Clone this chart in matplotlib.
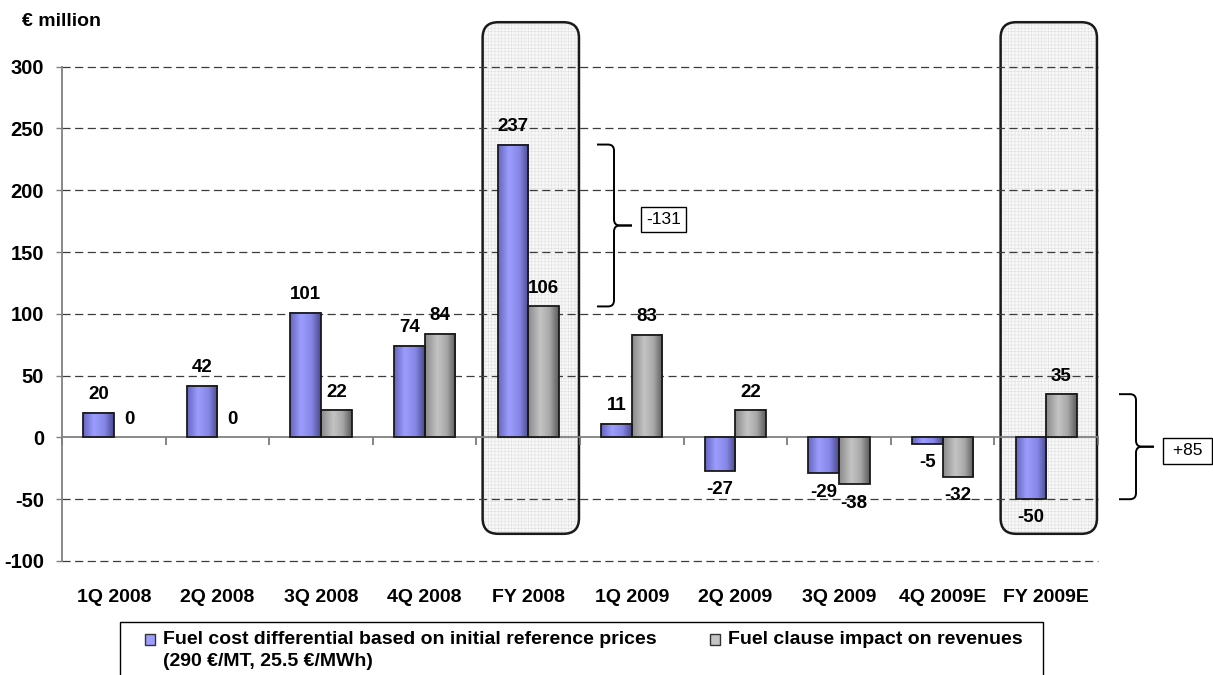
import numpy as np
import matplotlib
matplotlib.use('Agg')
import matplotlib.pyplot as plt
from matplotlib.colors import to_rgb
from matplotlib.patches import Rectangle, FancyBboxPatch, PathPatch
from matplotlib.path import Path

categories = ['1Q 2008', '2Q 2008', '3Q 2008', '4Q 2008', 'FY 2008',
              '1Q 2009', '2Q 2009', '3Q 2009', '4Q 2009E', 'FY 2009E']
fuel_cost_diff = [20, 42, 101, 74, 237, 11, -27, -29, -5, -50]
fuel_clause = [0, 0, 22, 84, 106, 83, 22, -38, -32, 35]
highlighted = ['FY 2008', 'FY 2009E']
legend_labels = ['Fuel cost differential based on initial reference prices',
                 '(290 €/MT, 25.5 €/MWh)',
                 'Fuel clause impact on revenues']
yticks = [-100, -50, 0, 50, 100, 150, 200, 250, 300]

W, H = 1213, 675
FONT = ['Liberation Sans', 'DejaVu Sans']

blue_stops = [(0.0, '#6464c0'), (0.35, '#9d9dff'), (0.7, '#8686e6'), (1.0, '#4a4a8e')]
gray_stops = [(0.0, '#8a8a8a'), (0.4, '#c4c4c4'), (0.7, '#a8a8a8'), (1.0, '#5c5c5c')]

# pixel size of one data unit, used to keep curves round on the skewed scale
PX_X = 1036 / 10.0
PX_Y = 494.3 / 400.0


def gradient_fill(ax, x0, y0, w, h, stops, zorder=2.6, transform=None):
    t = np.linspace(0, 1, 64)
    pos = [s[0] for s in stops]
    rgb = np.array([to_rgb(s[1]) for s in stops])
    img = np.stack([np.interp(t, pos, rgb[:, k]) for k in range(3)], axis=-1)[None, :, :]
    kw = {} if transform is None else dict(transform=transform)
    return ax.imshow(img, extent=(x0, x0 + w, y0, y0 + h), aspect='auto',
                     interpolation='bilinear', zorder=zorder, **kw)


def draw_brace(ax, x0, y_top, y_bot, label, dy):
    w = 17 / PX_X
    tip = 18 / PX_X
    rx = 6 / PX_X
    ry = 6 / PX_Y
    xv = x0 + w
    ym = (y_top + y_bot) / 2.0
    codes = [Path.MOVETO, Path.LINETO, Path.CURVE3, Path.CURVE3, Path.LINETO,
             Path.CURVE3, Path.CURVE3, Path.LINETO]
    for yend, sgn in [(y_top, 1), (y_bot, -1)]:
        verts = [(x0, yend), (xv - rx, yend), (xv, yend), (xv, yend - sgn * ry),
                 (xv, ym + sgn * ry), (xv, ym), (xv + rx, ym), (xv + tip, ym)]
        ax.add_patch(PathPatch(Path(verts, codes), fill=False, ec='black',
                               lw=1.4, clip_on=False, zorder=5))
    ax.annotate(label, (xv + tip, ym), xytext=(10, dy), textcoords='offset points',
                ha='left', va='center', fontsize=12.5, fontweight='normal',
                bbox=dict(boxstyle='square,pad=0.3', fc='white', ec='black', lw=1),
                annotation_clip=False, zorder=6)


def make_graph():
    plt.rcParams['font.family'] = FONT
    plt.rcParams['font.weight'] = 'bold'
    plt.rcParams['hatch.linewidth'] = 0.35

    fig = plt.figure(figsize=(W / 100, H / 100), dpi=100)
    ax = fig.add_axes([62 / W, (H - 561) / H, 1036 / W, 494.3 / H])

    x = np.arange(len(categories))
    bw = 0.295

    # rounded highlight frames behind the full-year columns
    for name in highlighted:
        c = categories.index(name)
        for kw in [dict(fc='#f8f8f8', ec='#dedede', lw=0, hatch='+++++', zorder=0.2),
                   dict(fc='none', ec='#1a1a1a', lw=1.8, zorder=0.3)]:
            box = FancyBboxPatch((c - 0.44, -78), 0.93, 414,
                                 boxstyle='round,pad=0,rounding_size=0.15',
                                 mutation_aspect=PX_X / PX_Y, clip_on=False, **kw)
            ax.add_patch(box)

    bars1 = ax.bar(x - bw / 2, fuel_cost_diff, bw, fc='none', ec='#1a1a1a', lw=1.3, zorder=3)
    bars2 = ax.bar(x + bw / 2, fuel_clause, bw, fc='none', ec='#1a1a1a', lw=1.3, zorder=3)
    for bars, vals, stops in [(bars1, fuel_cost_diff, blue_stops), (bars2, fuel_clause, gray_stops)]:
        for bar, v in zip(bars, vals):
            if v == 0:
                bar.set_visible(False)
            else:
                gradient_fill(ax, bar.get_x(), bar.get_y(), bar.get_width(),
                              bar.get_height(), stops)
            off = 13 if v >= 0 else -13.5
            ax.annotate(str(v), (bar.get_x() + bw / 2, v), xytext=(0, off),
                        textcoords='offset points', ha='center', va='center',
                        fontsize=13.5, zorder=7)

    # braces showing the gap between the two series in each full year
    i = categories.index('FY 2008')
    d = fuel_clause[i] - fuel_cost_diff[i]
    draw_brace(ax, (597 - 62) / PX_X - 0.5, max(fuel_cost_diff[i], fuel_clause[i]),
               min(fuel_cost_diff[i], fuel_clause[i]), f'{d:+d}', 4.5)
    i = categories.index('FY 2009E')
    d = fuel_clause[i] - fuel_cost_diff[i]
    draw_brace(ax, (1119 - 62) / PX_X - 0.5, max(fuel_cost_diff[i], fuel_clause[i]),
               min(fuel_cost_diff[i], fuel_clause[i]), f' {d:+d} ', -3)

    ax.set_xlim(-0.5, len(categories) - 0.5)
    ax.set_ylim(-100, 300)
    ax.set_yticks(yticks)
    ax.set_yticklabels([str(v) for v in yticks])
    ax.set_xticks(np.arange(len(categories) + 1) - 0.5)
    ax.set_xticklabels([])
    ax.tick_params(axis='y', direction='out', length=4, width=1, color='#808080',
                   labelsize=14.5, pad=9)
    ax.tick_params(axis='x', direction='out', length=6, width=1.2, color='#707070')
    ax.yaxis.grid(True, linestyle=(0, (6.5, 3.6)), color='#3c3c3c', lw=0.9)
    for v, gl in zip(yticks, ax.get_ygridlines()):
        gl.set_clip_on(False)
        if v == 0:
            gl.set_visible(False)
    ax.set_axisbelow(True)
    for s in ['top', 'right']:
        ax.spines[s].set_visible(False)
    ax.spines['left'].set_color('#808080')
    ax.spines['left'].set_linewidth(1.3)
    ax.spines['bottom'].set_position(('data', 0))
    ax.spines['bottom'].set_color('#808080')
    ax.spines['bottom'].set_linewidth(1.3)
    ax.patch.set_visible(False)

    for k, name in enumerate(categories):
        ax.text(k, -37 / 494.3, name, transform=ax.get_xaxis_transform(),
                ha='center', va='center', fontsize=14)

    fig.text(22 / W, 1 - 22 / H, '€ million', ha='left', va='center', fontsize=14)

    # legend drawn by hand, its frame runs off the bottom edge
    fig.add_artist(Rectangle((120 / W, 1 - 700 / H), 923 / W, 78 / H, fc='white',
                             ec='black', lw=1, transform=fig.transFigure, zorder=1))
    for (px, stops), txt in zip([(145, blue_stops), (710, gray_stops)],
                                [legend_labels[0], legend_labels[2]]):
        fig.add_artist(Rectangle((px / W, 1 - 645 / H), 10 / W, 11 / H,
                                 fc=stops[1][1], ec='#333333', lw=1,
                                 transform=fig.transFigure, zorder=2))
        fig.text((px + 18) / W, 1 - 640 / H, txt, ha='left', va='center',
                 fontsize=14, zorder=3)
    fig.text(163 / W, 1 - 662 / H, legend_labels[1], ha='left', va='center',
             fontsize=14, zorder=3)

    fig.savefig('out.png', dpi=100)


if __name__ == '__main__':
    make_graph()
